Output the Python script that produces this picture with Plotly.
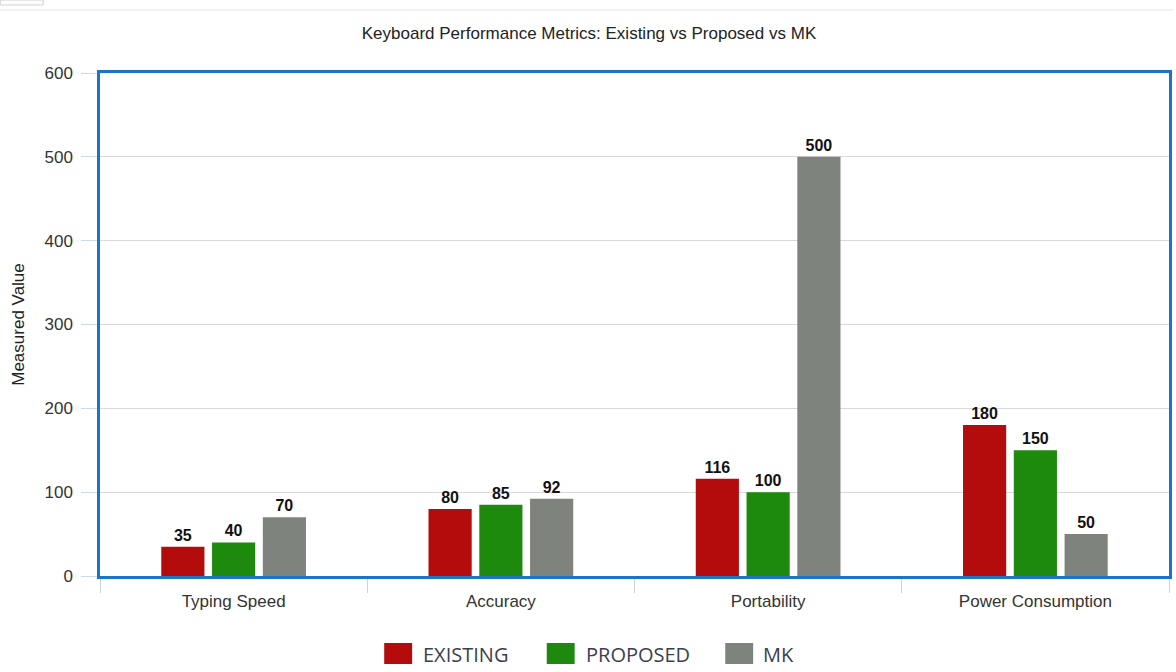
import plotly.graph_objects as go

categories = ["Typing Speed", "Accuracy", "Portability", "Power Consumption"]
existing = [35, 80, 116, 180]
proposed = [40, 85, 100, 150]
mk = [70, 92, 500, 50]
series_names = ["EXISTING", "PROPOSED", "MK"]
colors = ["#b40c0c", "#1d8a0e", "#7f837d"]

W, H = 1176, 672
l, r, t, b = 100, 4, 73, 96
pw = W - l - r
ph = H - t - b


def px_x(px):
    return (px - l) / pw


def px_y(py):
    return (H - b - py) / ph


fig = go.Figure()
for name, vals, col in zip(series_names, [existing, proposed, mk], colors):
    fig.add_trace(go.Bar(
        x=categories, y=vals, name=name, marker_color=col,
        marker_line_width=0, showlegend=False,
        text=[str(v) for v in vals], textposition="outside",
        textfont=dict(family="Liberation Sans, Arial", size=16, color="#111111"),
        texttemplate="<b>%{text}</b>", cliponaxis=False,
    ))

fig.update_layout(
    width=W, height=H,
    margin=dict(l=l, r=r, t=t, b=b),
    paper_bgcolor="white", plot_bgcolor="white",
    barmode="group", bargap=0.43, bargroupgap=0.15,
    title=dict(text="Keyboard Performance Metrics: Existing vs Proposed vs MK",
               x=589 / W, xanchor="center", y=1 - 33 / H, yanchor="middle",
               font=dict(family="Liberation Sans, Arial", size=17, color="#222222")),
    font=dict(family="Liberation Sans, Arial", size=17, color="#333333"),
    showlegend=False,
)
fig.update_xaxes(
    type="category", showline=True, mirror=True, linecolor="#1b74c9", linewidth=2.5,
    ticks="outside", tickson="boundaries", ticklen=14, tickcolor="#c9d3e3", tickwidth=1,
    showgrid=False, tickfont=dict(size=17, color="#333333"), ticklabelstandoff=8,
)
fig.update_yaxes(
    range=[0, 600], dtick=100, showline=True, mirror=True, linecolor="#1b74c9", linewidth=2.5,
    ticks="outside", ticklen=16, tickcolor="#cfd8e6", tickwidth=1,
    showgrid=True, gridcolor="#d9d9d9", gridwidth=1, zeroline=False,
    tickfont=dict(size=17, color="#333333"), ticklabelstandoff=5,
    title=dict(text="Measured Value", font=dict(size=17, color="#222222"), standoff=16),
)

# manual legend (larger swatches like the reference)
legend_swatch_x = [385, 548, 727]
legend_text_x = [422, 585, 763]
for name, col, sx, tx in zip(series_names, colors, legend_swatch_x, legend_text_x):
    fig.add_shape(type="rect", xref="paper", yref="paper",
                  x0=px_x(sx), x1=px_x(sx + 28), y0=px_y(664), y1=px_y(643),
                  line=dict(width=0), fillcolor=col)
    fig.add_annotation(text=name, xref="paper", yref="paper",
                       x=px_x(tx), y=px_y(654), xanchor="left", yanchor="middle",
                       showarrow=False,
                       font=dict(family="Open Sans", size=20, color="#3b3f4f"))

# top strip artefacts
fig.add_shape(type="line", xref="paper", yref="paper",
              x0=px_x(0), x1=px_x(W), y0=px_y(10), y1=px_y(10),
              line=dict(color="#e6e6e6", width=1))
fig.add_shape(type="rect", xref="paper", yref="paper",
              x0=px_x(0), x1=px_x(43), y0=px_y(5), y1=px_y(0),
              line=dict(color="#d0d0d0", width=1), fillcolor="white")

fig.write_html("out.html")
